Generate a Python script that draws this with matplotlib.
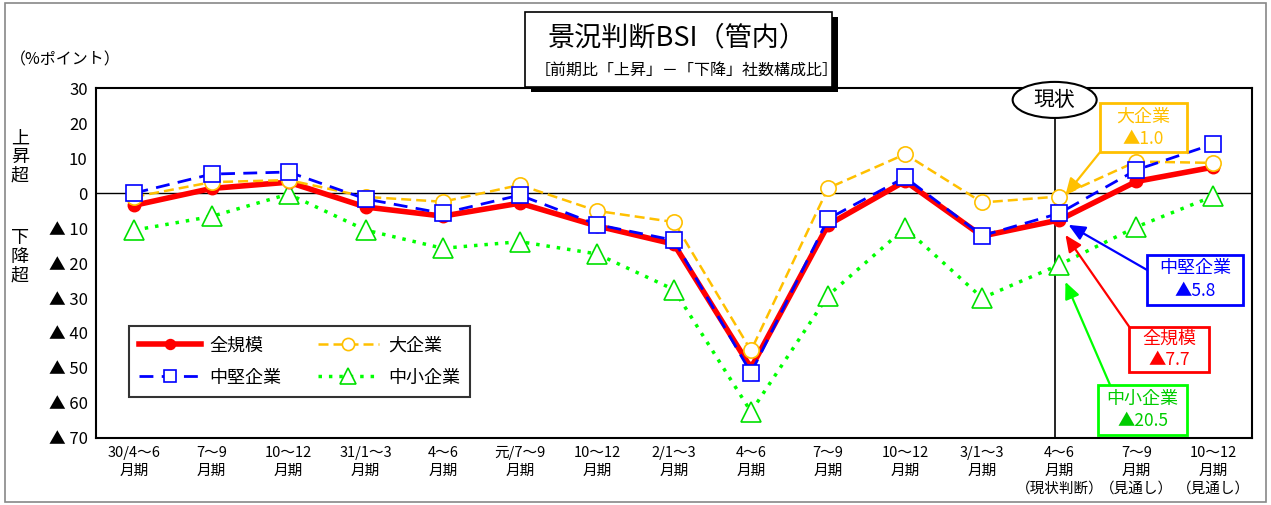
import matplotlib.pyplot as plt
from matplotlib.patches import Rectangle, Ellipse

plt.rcParams['font.family'] = ['Noto Sans CJK JP', 'DejaVu Sans']

periods = ['30/4～6\n月期', '7～9\n月期', '10～12\n月期', '31/1～3\n月期', '4～6\n月期',
           '元/7～9\n月期', '10～12\n月期', '2/1～3\n月期', '4～6\n月期', '7～9\n月期',
           '10～12\n月期', '3/1～3\n月期', '4～6\n月期\n（現状判断）', '7～9\n月期\n（見通し）',
           '10～12\n月期\n（見通し）']
zenkibo = [-3.5, 1.3, 3.1, -4.0, -6.6, -2.9, -9.4, -14.6, -50.0, -9.1, 3.4, -12.3, -7.7, 3.3, 7.4]
daikigyo = [-1.1, 3.1, 3.7, -1.1, -2.5, 2.3, -5.1, -8.3, -45.0, 1.4, 11.1, -2.7, -1.0, 9.0, 8.6]
chuken = [0.0, 5.4, 6.0, -1.7, -5.8, -0.6, -9.0, -13.5, -51.4, -7.4, 4.5, -12.2, -5.8, 6.6, 14.0]
chusho = [-10.6, -6.7, -0.3, -10.6, -15.8, -13.9, -17.4, -27.6, -62.5, -29.3, -10.0, -30.0, -20.5, -9.7, -0.9]
yticks = [30, 20, 10, 0, -10, -20, -30, -40, -50, -60, -70]
ylabels = ['30', '20', '10', '0', '▲ 10', '▲ 20', '▲ 30', '▲ 40', '▲ 50', '▲ 60', '▲ 70']

fig = plt.figure(figsize=(12.71, 5.05), dpi=100)
ax = fig.add_axes([0.0755, 0.1327, 0.9095, 0.693])
x = list(range(len(periods)))

ax.axhline(0, color='black', lw=1, zorder=1)
ax.plot([11.94, 11.94], [-70, 22], color='black', lw=1.2, zorder=1, clip_on=False)

l1, = ax.plot(x, zenkibo, color='#FF0000', lw=4, marker='o', ms=9, mfc='#FF0000', mec='#FF0000',
              label='全規模', zorder=3)
l2, = ax.plot(x, daikigyo, color='#FFC000', lw=1.8, ls=(0, (4, 2)), marker='o', ms=11, mfc='white',
              mec='#FFC000', mew=1.2, label='大企業', zorder=4)
l3, = ax.plot(x, chuken, color='#0000FF', lw=2, ls=(0, (5, 3)), marker='s', ms=11, mfc='white',
              mec='#0000FF', mew=1.2, label='中堅企業', zorder=5)
l4, = ax.plot(x, chusho, color='#00FF00', lw=2.5, ls=(0, (1, 2)), marker='^', ms=14, mfc='white',
              mec='#00E000', mew=1.2, label='中小企業', zorder=2)

ax.set_xlim(-0.5, 14.5)
ax.set_ylim(-70, 30)
ax.set_yticks(yticks)
ax.set_yticklabels(ylabels, fontsize=12)
ax.set_xticks(x)
ax.set_xticklabels(periods, fontsize=10.5, linespacing=1.35, va='top')
ax.tick_params(length=0, pad=6)
for s in ax.spines.values():
    s.set_linewidth(1.5)

leg = ax.legend([l1, l3, l2, l4], ['全規模', '中堅企業', '大企業', '中小企業'],
                loc='upper left', bbox_to_anchor=(0.021, 0.345), ncol=2, fontsize=13,
                frameon=True, fancybox=False, edgecolor='black', handlelength=3.4,
                columnspacing=2.0, borderpad=0.55, labelspacing=0.8, handletextpad=0.5,
                markerscale=0.8)
leg.get_frame().set_linewidth(1.5)

# title box with shadow
fig.patches.append(Rectangle((531 / 1271, 1 - 92 / 505), 307 / 1271, 75 / 505,
                             transform=fig.transFigure, facecolor='black', zorder=0))
fig.patches.append(Rectangle((525 / 1271, 1 - 87 / 505), 307 / 1271, 75 / 505,
                             transform=fig.transFigure, facecolor='white', edgecolor='black',
                             lw=1.2, zorder=1))
fig.text(677 / 1271, 1 - 38 / 505, '景況判断BSI（管内）', fontsize=19.5, ha='center', va='center')
fig.text(687 / 1271, 1 - 70 / 505, '［前期比「上昇」－「下降」社数構成比］', fontsize=11.5,
         ha='center', va='center')

# outer frame
fig.patches.append(Rectangle((0.004, 0.006), 0.992, 0.988, transform=fig.transFigure,
                             facecolor='none', edgecolor='#888888', lw=1.2))

fig.text(65 / 1271, 1 - 60 / 505, '（%ポイント）', fontsize=11.5, ha='center', va='center')
fig.text(20 / 1271, 1 - 157 / 505, '上\n昇\n超', fontsize=13, ha='center', va='center',
         linespacing=1.05)
fig.text(20 / 1271, 1 - 257 / 505, '下\n降\n超', fontsize=13, ha='center', va='center',
         linespacing=1.05)

# 現状 ellipse
ax.add_patch(Ellipse((11.94, 26.6), 1.09, 10.3, transform=ax.transData, facecolor='white',
                     edgecolor='black', lw=1.5, clip_on=False, zorder=6))
ax.text(11.94, 26.6, '現状', fontsize=15, ha='center', va='center', zorder=7)


def callout(lines, color, tcolor, box, tail, tip):
    x0, x1, y0, y1 = box
    ax.annotate('', xy=tip, xytext=tail,
                arrowprops=dict(arrowstyle='-|>,head_length=1.0,head_width=0.45', color=color,
                                lw=1.6, shrinkA=0, shrinkB=0), zorder=8)
    ax.add_patch(Rectangle((x0, y0), x1 - x0, y1 - y0, facecolor='white', edgecolor=color,
                           lw=2, zorder=9))
    ax.text((x0 + x1) / 2, y0 + (y1 - y0) * 0.73, lines[0], fontsize=13, color=tcolor,
            ha='center', va='center', zorder=10)
    ax.text((x0 + x1) / 2, y0 + (y1 - y0) * 0.27, lines[1], fontsize=12.5, color=tcolor,
            ha='center', va='center', zorder=10)


callout(['大企業', '▲1.0'], '#FFC000', '#FFC000', (12.53, 13.66, 11.7, 25.7),
        (12.53, 11.7), (12.08, -0.6))
callout(['中堅企業', '▲5.8'], '#0000FF', '#0000FF', (13.14, 14.38, -32.0, -17.7),
        (13.14, -22.0), (12.12, -9.1))
callout(['全規模', '▲7.7'], '#FF0000', '#FF0000', (12.91, 13.94, -51.1, -38.3),
        (12.91, -38.3), (12.08, -12.0))
callout(['中小企業', '▲20.5'], '#00FF00', '#00CC00', (12.50, 13.66, -69.1, -54.9),
        (12.66, -54.9), (12.08, -25.4))

fig.savefig('out.png', dpi=100)
